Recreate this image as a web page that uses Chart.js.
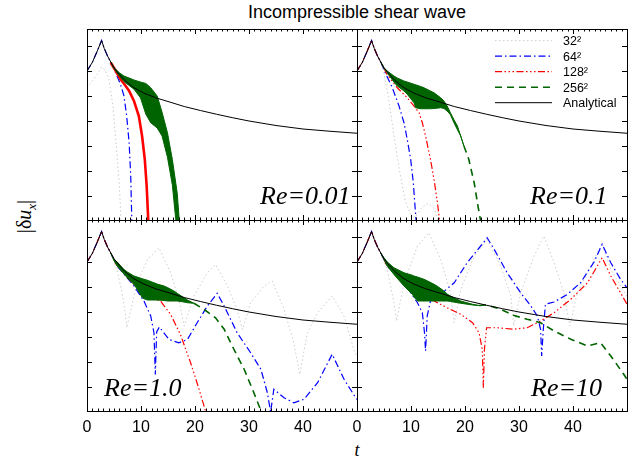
<!DOCTYPE html>
<html>
<head>
<meta charset="UTF-8">
<title>Incompressible shear wave</title>
<script src="https://cdn.jsdelivr.net/npm/chart.js@4.4.0/dist/chart.umd.min.js"></script>
<style>
  body { margin: 0; background: #fff; width: 634px; height: 464px; position: relative; overflow: hidden; font-family: "Liberation Sans", Arial, sans-serif; }
  canvas { position: absolute; }
  .txt { position: absolute; white-space: nowrap; color: #000; }
</style>
<script>
const tAna = [0, 1, 2, 2.7, 3.2, 3.8, 4.4, 5, 6, 7, 8.7, 10.5, 12.7, 15, 18, 21, 24, 27, 30, 35, 40, 45, 50];
const yAna = [5.0, 5.35, 5.85, 6.22, 5.9, 5.6, 5.36, 5.13, 4.86, 4.62, 4.33, 4.12, 3.93, 3.78, 3.58, 3.42, 3.27, 3.13, 3.0, 2.82, 2.68, 2.59, 2.51];

// Re = 0.01
const t32_a = [0, 1, 1.9, 2.75, 3.4, 4.0, 4.8, 5.5, 6.0, 6.3];
const y32_a = [4.33, 4.6, 4.87, 5.17, 5.0, 4.75, 3.6, 1.8, 0.4, -1.0];
const t64_a = [0, 1, 2, 2.7, 3.2, 3.8, 4.4, 5.3, 6.2, 6.85, 7.35, 7.8, 8.1, 8.3];
const y64_a = [5.0, 5.35, 5.85, 6.22, 5.9, 5.6, 5.36, 4.93, 4.47, 4.0, 3.2, 2.13, 0.8, -1.0];
// the part before t=4.4 lies under the analytical curve
const t128_a = [4.4, 5.2, 6.2, 7.0, 7.8, 8.7, 9.6, 10.2, 10.7, 11.05, 11.35];
const y128_a = [5.33, 5.05, 4.67, 4.45, 4.2, 3.8, 3.2, 2.4, 1.47, 0.4, -1.0];
const tBand_a = [4.4, 5.0, 6.0, 6.85, 7.8, 8.7, 9.9, 10.9, 11.8, 13.0, 13.9, 14.9, 15.8, 16.7, 17.1];
const hiBand_a = [5.36, 5.13, 4.93, 4.8, 4.72, 4.64, 4.56, 4.5, 4.33, 4.0, 3.35, 2.53, 1.47, 0.13, -1.0];
const loBand_a = [5.36, 5.1, 4.8, 4.58, 4.42, 4.27, 3.93, 3.27, 2.93, 2.72, 2.4, 1.55, 0.45, -1.5, -2.0];

// Re = 0.1
const t32_b = [0, 1, 2, 2.7, 3.2, 3.8, 4.4, 4.9, 5.8, 6.7, 7.35, 7.96, 8.9, 9.8, 10.8, 12.0, 13.2, 14.3, 15.0];
const y32_b = [5.0, 5.35, 5.85, 6.22, 5.9, 5.6, 5.3, 5.0, 3.97, 2.64, 1.71, 0.91, -0.16, -0.69, -0.85, -0.45, -0.3, -0.5, -1.0];
const t64_b = [0, 1, 2, 2.7, 3.2, 3.8, 4.4, 5.3, 6.54, 7.78, 8.7, 9.3, 9.94, 10.43, 10.74, 10.95];
const y64_b = [5.0, 5.35, 5.85, 6.22, 5.9, 5.6, 5.36, 4.9, 4.33, 3.6, 2.93, 2.27, 1.47, 0.53, -0.4, -1.0];
const t128_b = [0, 1, 2, 2.7, 3.2, 3.8, 4.4, 5.6, 7.47, 9.3, 10.55, 11.5, 12.1, 12.7, 13.6, 14.26, 14.9, 15.3];
const y128_b = [5.0, 5.35, 5.85, 6.22, 5.9, 5.6, 5.36, 4.85, 4.33, 3.93, 3.6, 3.33, 2.93, 2.4, 1.47, 0.67, -0.27, -1.0];
const tBand_b = [4.4, 5.0, 5.6, 6.85, 7.47, 8.7, 9.3, 10.55, 10.86, 11.8, 12.4, 13.6, 14.26, 15.5, 16.1, 16.7, 17.3, 17.96, 18.6, 19.2, 19.8];
const hiBand_b = [5.36, 5.13, 5.0, 4.8, 4.72, 4.6, 4.56, 4.47, 4.45, 4.38, 4.33, 4.2, 4.13, 3.93, 3.8, 3.6, 3.33, 3.05, 2.8, 2.4, 2.0];
const loBand_b = [5.36, 5.1, 4.93, 4.55, 4.4, 4.2, 4.07, 3.73, 3.53, 3.49, 3.49, 3.49, 3.5, 3.53, 3.5, 3.4, 3.25, 2.93, 2.65, 2.4, 2.0];
const tTail_b = [19.8, 20.7, 21.7, 22.4, 22.9];
const yTail_b = [2.0, 1.47, 0.53, -0.4, -1.0];

// Re = 1.0
const t32_c = [0, 1, 2, 2.7, 3.2, 3.8, 4.4, 5.6, 6.5, 7.16, 7.35, 9.3, 11.2, 13.3, 15.5, 17.0, 18.0, 19.8, 22.3, 23.8, 26.0, 27.8, 28.8, 30.3, 32.8, 34.3, 36.5, 38.3, 39.4, 40.8, 42.7, 45.4, 47.6, 49.4, 50];
const y32_c = [5.0, 5.35, 5.85, 6.22, 5.9, 5.6, 5.36, 4.64, 3.77, 2.84, 2.37, 4.17, 5.1, 5.57, 4.57, 3.5, 2.44, 3.64, 4.57, 4.9, 4.04, 3.1, 2.3, 3.37, 4.04, 4.24, 3.1, 1.77, 0.5, 2.17, 2.97, 3.64, 2.84, 1.5, 1.2];
const t64_c = [0, 1, 2, 2.7, 3.2, 3.8, 4.4, 5.6, 8.7, 10.55, 11.8, 12.4, 12.65, 12.9, 13.4, 15.2, 17.0, 18.6, 20.4, 22.3, 24.1, 25.4, 27.8, 30.3, 32.2, 33.4, 34.0, 34.6, 36.5, 38.3, 40.2, 42.7, 45.4, 47.6, 49.75, 50];
const y64_c = [5.0, 5.35, 5.85, 6.22, 5.9, 5.6, 5.36, 4.84, 4.04, 3.44, 2.84, 2.17, 0.5, 2.2, 2.4, 1.9, 1.77, 1.9, 2.57, 3.24, 3.75, 3.24, 2.17, 1.37, 0.71, -0.23, -1.0, -0.09, -0.43, -0.63, -0.49, 0.17, 1.31, 0.31, -0.43, -0.5];
const t128_c = [0, 1, 2, 2.7, 3.2, 3.8, 4.4, 5.6, 8.7, 11.8, 13.6, 15.5, 17.3, 19.2, 20.7, 22.0];
const y128_c = [5.0, 5.35, 5.85, 6.22, 5.9, 5.6, 5.36, 4.84, 4.1, 3.57, 3.44, 2.9, 2.1, 0.96, -0.05, -1.0];
const tBand_c = [4.4, 5.0, 5.6, 6.85, 7.47, 8.7, 9.3, 10.25, 10.55, 11.2, 12.4, 13.0, 14.26, 14.9, 16.1, 16.7, 17.96, 18.6, 19.8];
const hiBand_c = [5.36, 5.1, 5.0, 4.7, 4.6, 4.44, 4.4, 4.33, 4.31, 4.27, 4.17, 4.12, 4.04, 3.98, 3.84, 3.75, 3.57, 3.48, 3.35];
const loBand_c = [5.36, 5.05, 4.84, 4.52, 4.37, 4.1, 3.91, 3.57, 3.53, 3.48, 3.48, 3.48, 3.46, 3.44, 3.44, 3.44, 3.4, 3.37, 3.35];
const tTail_c = [19.8, 21.7, 23.8, 25.4, 27.2, 29.1, 30.9, 32.3];
const yTail_c = [3.35, 3.1, 2.77, 2.31, 1.51, 0.71, -0.23, -1.0];

// Re = 10
const t32_d = [0, 1, 2, 2.7, 3.2, 3.8, 4.4, 5.6, 6.85, 7.35, 8.7, 11.2, 13.3, 15.5, 17.3, 18.0, 19.2, 21.7, 24.1, 26.6, 28.5, 29.0, 30.3, 32.8, 34.6, 36.5, 38.3, 39.4, 40.8, 43.3, 45.4, 47.0, 48.8, 50];
const y32_d = [5.0, 5.35, 5.85, 6.22, 5.9, 5.6, 5.36, 4.7, 3.37, 2.64, 4.17, 5.64, 6.17, 5.1, 3.77, 2.57, 3.9, 5.24, 5.9, 4.84, 3.64, 2.44, 3.77, 5.24, 6.04, 4.97, 3.77, 2.44, 3.77, 4.84, 5.75, 4.7, 4.04, 3.64];
const t64_d = [0, 1, 2, 2.7, 3.2, 3.8, 4.4, 5.6, 8.7, 11.2, 12.1, 12.5, 12.7, 13.0, 13.6, 15.5, 18.0, 20.4, 22.9, 24.1, 25.4, 27.8, 30.3, 32.2, 33.4, 34.0, 34.2, 34.5, 34.9, 36.5, 39.0, 41.4, 43.9, 45.4, 47.0, 48.8, 50];
const y64_d = [5.0, 5.35, 5.85, 6.22, 5.9, 5.6, 5.36, 4.84, 4.17, 3.37, 2.97, 2.17, 1.44, 2.84, 3.44, 3.71, 4.17, 4.97, 5.64, 5.97, 5.51, 4.57, 3.77, 3.24, 2.84, 2.31, 1.24, 2.31, 3.31, 3.4, 3.71, 4.17, 5.0, 5.71, 4.97, 4.31, 3.97];
const t128_d = [0, 1, 2, 2.7, 3.2, 3.8, 4.4, 5.6, 8.7, 11.2, 14.3, 16.7, 19.2, 21.4, 22.6, 23.2, 23.4, 23.6, 24.0, 26.0, 28.9, 31.5, 34.0, 36.5, 39.6, 42.7, 44.5, 45.4, 47.0, 48.8, 50];
const y128_d = [5.0, 5.35, 5.85, 6.22, 5.9, 5.6, 5.36, 4.84, 4.1, 3.64, 3.44, 3.17, 2.91, 2.57, 2.17, 1.51, -0.03, 1.51, 2.37, 2.37, 2.31, 2.37, 2.64, 2.97, 3.51, 4.17, 4.84, 5.17, 4.44, 3.77, 3.31];
const tBand_d = [4.4, 5.0, 5.6, 6.85, 8.7, 10.25, 10.55, 11.2, 12.4, 13.0, 14.26, 14.9, 16.1, 16.7, 17.3, 19.2, 21.4, 22.6];
const hiBand_d = [5.36, 5.17, 5.0, 4.77, 4.57, 4.47, 4.44, 4.4, 4.31, 4.25, 4.11, 4.03, 3.84, 3.72, 3.64, 3.44, 3.31, 3.26];
const loBand_d = [5.36, 5.1, 4.84, 4.5, 4.04, 3.71, 3.6, 3.44, 3.44, 3.44, 3.44, 3.44, 3.44, 3.44, 3.42, 3.35, 3.28, 3.26];
const tTail_d = [22.6, 24.1, 26.6, 29.1, 31.5, 34.0, 36.5, 39.6, 42.7, 45.1, 47.0, 49.4, 50];
const yTail_d = [3.26, 3.28, 3.11, 2.86, 2.71, 2.57, 2.24, 1.91, 1.64, 1.77, 1.24, 0.51, 0.31];

const yTicks = [0, 1, 2, 3, 4, 5, 6];
const reLabels = ['Re=0.01', 'Re=0.1', 'Re=1.0', 'Re=10'];
const legendLabels = ['32²', '64²', '128²', '256²', 'Analytical'];
</script>
</head>
<body>
<div class="txt" style="left:0; width:714px; top:2px; text-align:center; font-size:18px;">Incompressible shear wave</div>
<div class="txt" style="left:-14px; top:203px; width:80px; text-align:center; font:20px 'Liberation Serif', serif; transform:rotate(-90deg);">|δ<i>u</i><sub style="font-size:13px"><i>x</i></sub>|</div>
<div class="txt" style="left:317px; width:80px; top:440px; text-align:center; font:italic 18px 'Liberation Serif', serif;">t</div>
<script>
const green = '#006400';
const st = {
  g32: {borderColor: '#cccccc', borderDash: [1.5, 2.5], borderWidth: 1},
  b64: {borderColor: '#0000ff', borderDash: [7, 3, 1.5, 3], borderWidth: 1.2},
  r128: {borderColor: '#ff0000', borderDash: [7, 2.5, 1.5, 2.5, 1.5, 2.5, 1.5, 2.5], borderWidth: 1.2},
  g256: {borderColor: green, borderDash: [7, 5], borderWidth: 1.6},
  ana: {borderColor: '#000000', borderDash: [], borderWidth: 1}
};
const band = {borderColor: green, borderDash: [], borderWidth: 1};
const padL = 14; // room for the first tick label, keeps all plot areas aligned

function pts(t, y) {
  return t.map((x, i) => ({x: x, y: y[i]}));
}
function ds(t, y, style, order, extra) {
  return Object.assign({data: pts(t, y), order: order, pointRadius: 0, tension: 0, fill: false}, style, extra || {});
}

// frame, inward ticks, Re label and legend
function decor(p) {
  return {
    id: 'decor',
    afterDatasetsDraw(chart) {
      const ctx = chart.ctx, a = chart.chartArea, x = chart.scales.x, y = chart.scales.y;
      ctx.save();
      ctx.strokeStyle = '#000';
      ctx.lineWidth = 1;
      ctx.setLineDash([]);
      ctx.beginPath();
      for (let t = 0; t <= 50; t++) {
        const px = Math.round(x.getPixelForValue(t)) + 0.5;
        const len = t % 10 === 0 ? 5 : 2.5;
        ctx.moveTo(px, a.bottom); ctx.lineTo(px, a.bottom - len);
        ctx.moveTo(px, a.top); ctx.lineTo(px, a.top + len);
      }
      yTicks.forEach(v => {
        const py = Math.round(y.getPixelForValue(v)) + 0.5;
        ctx.moveTo(a.left, py); ctx.lineTo(a.left + 5, py);
        ctx.moveTo(a.right, py); ctx.lineTo(a.right - 5, py);
      });
      ctx.stroke();
      ctx.strokeRect(Math.round(a.left) + 0.5, Math.round(a.top) + 0.5, Math.round(a.right - a.left), Math.round(a.bottom - a.top));

      ctx.fillStyle = '#000';
      ctx.font = 'italic 26px "Liberation Serif"';
      ctx.textBaseline = 'alphabetic';
      ctx.textAlign = 'left';
      ctx.fillText(p.label, a.left + p.lx, a.bottom - p.lb);

      if (p.legend) {
        const keys = ['g32', 'b64', 'r128', 'g256', 'ana'];
        ctx.font = '12.5px "Liberation Sans"';
        ctx.textBaseline = 'middle';
        keys.forEach((k, i) => {
          const yy = a.top + 11.7 + i * 15.5;
          ctx.beginPath();
          ctx.setLineDash(st[k].borderDash);
          ctx.strokeStyle = st[k].borderColor;
          ctx.lineWidth = st[k].borderWidth;
          ctx.moveTo(a.left + 138, yy);
          ctx.lineTo(a.left + 195, yy);
          ctx.stroke();
          ctx.fillText(legendLabels[i], a.left + 206, yy + 1);
        });
      }
      ctx.restore();
    }
  };
}

const panels = [
  {left: 87, top: 19, bottom: false, label: reLabels[0], lx: 173, lb: 16, legend: false,
   sets: [ds(tAna, yAna, st.ana, 0),
          ds(tBand_a, hiBand_a, band, 2),
          ds(tBand_a, loBand_a, band, 2, {fill: '-1', backgroundColor: green}),
          ds(t128_a, y128_a, st.r128, 3, {borderDash: [], borderWidth: 2.6}),
          ds(t64_a, y64_a, st.b64, 4),
          ds(t32_a, y32_a, st.g32, 5)]},
  {left: 357, top: 19, bottom: false, label: reLabels[1], lx: 173, lb: 16, legend: true,
   sets: [ds(tAna, yAna, st.ana, 0),
          ds(tTail_b, yTail_b, st.g256, 1),
          ds(tBand_b, hiBand_b, band, 2),
          ds(tBand_b, loBand_b, band, 2, {fill: '-1', backgroundColor: green}),
          ds(t128_b, y128_b, st.r128, 3),
          ds(t64_b, y64_b, st.b64, 4),
          ds(t32_b, y32_b, st.g32, 5)]},
  {left: 87, top: 210, bottom: true, label: reLabels[2], lx: 17, lb: 15, legend: false,
   sets: [ds(tAna, yAna, st.ana, 0),
          ds(tTail_c, yTail_c, st.g256, 1),
          ds(tBand_c, hiBand_c, band, 2),
          ds(tBand_c, loBand_c, band, 2, {fill: '-1', backgroundColor: green}),
          ds(t128_c, y128_c, st.r128, 3),
          ds(t64_c, y64_c, st.b64, 4),
          ds(t32_c, y32_c, st.g32, 5)]},
  {left: 357, top: 210, bottom: true, label: reLabels[3], lx: 174, lb: 15, legend: false,
   sets: [ds(tAna, yAna, st.ana, 0),
          ds(tTail_d, yTail_d, st.g256, 1),
          ds(tBand_d, hiBand_d, band, 2),
          ds(tBand_d, loBand_d, band, 2, {fill: '-1', backgroundColor: green}),
          ds(t128_d, y128_d, st.r128, 3),
          ds(t64_d, y64_d, st.b64, 4),
          ds(t32_d, y32_d, st.g32, 5)]}
];

panels.forEach(p => {
  const cv = document.createElement('canvas');
  cv.width = padL + 270 + 10;
  cv.height = p.bottom ? 241 : 211;
  cv.style.left = (p.left - padL) + 'px';
  cv.style.top = p.top + 'px';
  document.body.appendChild(cv);
  new Chart(cv, {
    type: 'line',
    data: {datasets: p.sets},
    options: {
      responsive: false,
      animation: false,
      devicePixelRatio: 1,
      layout: {padding: {left: padL, right: 10, top: 10, bottom: p.bottom ? 0 : 10}},
      plugins: {legend: {display: false}, tooltip: {enabled: false}},
      scales: {
        x: {
          type: 'linear', min: 0, max: 50, display: p.bottom,
          grid: {display: false, drawTicks: false},
          border: {display: false},
          ticks: {stepSize: 10, padding: 7, color: '#000', maxRotation: 0, autoSkip: false,
                  font: {family: '"Liberation Sans", Arial, sans-serif', size: 16},
                  callback: v => v === 50 ? '' : v},
          afterFit: s => { s.height = p.bottom ? 40 : 0; }
        },
        y: {type: 'linear', min: -0.96, max: 6.68, display: false}
      }
    },
    plugins: [decor(p)]
  });
});
</script>
</body>
</html>
